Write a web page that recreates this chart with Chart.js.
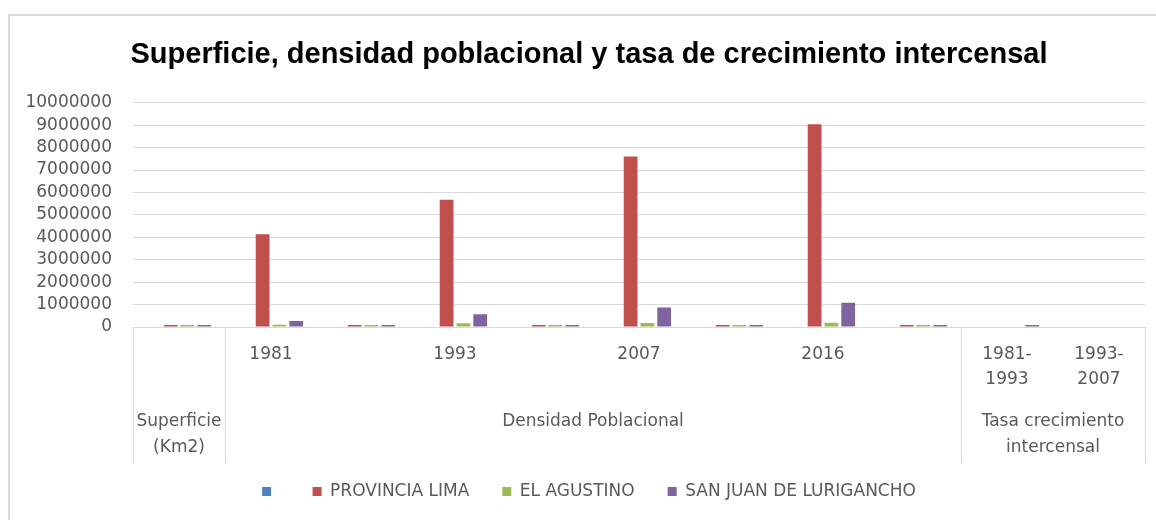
<!DOCTYPE html>
<html><head><meta charset="utf-8">
<script src="https://cdn.jsdelivr.net/npm/chart.js@4.4.0/dist/chart.umd.min.js"></script>
<style>html,body{margin:0;padding:0;background:#fff;}#wrap{position:relative;width:1156px;height:520px;}</style>
</head><body><div id="wrap"><canvas id="c" width="1156" height="520"></canvas></div>
<script>
// ---- data ----
const subLabels = ['', '1981', '', '1993', '', '2007', '', '2016', '', ['1981-', '1993'], ['1993-', '2007']];
const groupLabels = [['Superficie', '(Km2)'], ['Densidad Poblacional'], ['Tasa crecimiento', 'intercensal']];
const groupSpans = [1, 8, 2];
const seriesNames = ['', 'PROVINCIA LIMA', 'EL AGUSTINO', 'SAN JUAN DE LURIGANCHO'];
const seriesBlank = [null, null, null, null, null, null, null, null, null, null, null];
const provinciaLima = [2672, 4140000, 1559, 5680000, 2135, 7610000, 2846, 9040000, 3385, null, null];
const elAgustino = [12.54, 103000, 10200, 170000, 12283, 175000, 14375, 190000, 15237, null, null];
const sanJuan = [131.25, 270000, 1976, 570000, 4442, 870000, 6845, 1080000, 8315, 7.2, null];
const yMax = 10000000;
const yStep = 1000000;
const colors = ['#4F81BD', '#C0504D', '#9BBB59', '#8064A2'];

const TXT = '#595959';
const GRID = '#d9d9d9';

const frame = {
  id: 'frame',
  afterLayout(chart) {
    // give the value labels room to the left of the axis box
    chart.scales.y.left -= 20;
  },
  beforeDraw(chart) {
    const ctx = chart.ctx;
    ctx.save();
    ctx.strokeStyle = GRID;
    ctx.lineWidth = 2;
    ctx.beginPath();
    ctx.moveTo(9, chart.height + 5);
    ctx.lineTo(9, 15);
    ctx.lineTo(chart.width + 5, 15);
    ctx.stroke();
    ctx.restore();
  }
};

const groupAxis = {
  id: 'groupAxis',
  afterDraw(chart) {
    const xs = chart.scales.x;
    const ctx = chart.ctx;
    const w = xs.getPixelForTick(1) - xs.getPixelForTick(0);
    const top = chart.chartArea.bottom;
    const bottom = xs.top + 136;
    ctx.save();
    ctx.strokeStyle = GRID;
    ctx.lineWidth = 1;
    let idx = 0;
    const bounds = [xs.getPixelForTick(0) - w / 2];
    groupSpans.forEach(s => { idx += s; bounds.push(xs.getPixelForTick(idx - 1) + w / 2); });
    bounds.forEach(b => {
      const xx = Math.round(b) + 0.5;
      ctx.beginPath(); ctx.moveTo(xx, top); ctx.lineTo(xx, bottom); ctx.stroke();
    });
    ctx.fillStyle = TXT;
    ctx.font = '17px "DejaVu Sans"';
    ctx.textAlign = 'center';
    ctx.textBaseline = 'middle';
    groupLabels.forEach((lines, g) => {
      const cx = (bounds[g] + bounds[g + 1]) / 2;
      lines.forEach((ln, i) => ctx.fillText(ln, cx, xs.top + 95 + i * 26));
    });
    ctx.restore();
  }
};

const dsData = [seriesBlank, provinciaLima, elAgustino, sanJuan];
new Chart(document.getElementById('c'), {
  type: 'bar',
  data: {
    labels: subLabels,
    datasets: dsData.map((d, i) => ({
      label: seriesNames[i],
      data: d,
      backgroundColor: colors[i],
      borderWidth: 0,
      minBarLength: 2,
      categoryPercentage: 0.73,
      barPercentage: 0.82
    }))
  },
  options: {
    responsive: false,
    animation: false,
    devicePixelRatio: 1,
    layout: { padding: { left: 33, right: 11, top: 18, bottom: 10 } },
    plugins: {
      title: {
        display: true,
        text: 'Superficie, densidad poblacional y tasa de crecimiento intercensal',
        color: '#000',
        font: { family: '"Liberation Sans"', size: 29, weight: 'bold' },
        padding: { top: 20, bottom: 30 }
      },
      legend: {
        position: 'bottom',
        labels: {
          boxWidth: 9, boxHeight: 9, padding: 33, color: TXT,
          font: { family: '"DejaVu Sans"', size: 17 }
        }
      },
      tooltip: { enabled: false }
    },
    scales: {
      x: {
        ticks: { color: TXT, font: { family: '"DejaVu Sans"', size: 17, lineHeight: 1.47 }, padding: 7, maxRotation: 0, autoSkip: false },
        grid: { display: false },
        border: { display: true, color: GRID, width: 1 },
        afterFit: s => { s.height = 123; }
      },
      y: {
        min: 0, max: yMax,
        ticks: { stepSize: yStep, autoSkip: false, maxTicksLimit: 20, color: TXT, font: { family: '"DejaVu Sans"', size: 17, lineHeight: 1 }, padding: 21, callback: v => String(v) },
        grid: { color: GRID, lineWidth: 1, drawTicks: false },
        border: { display: false },
        afterFit: s => { s.width = 100; }
      }
    }
  },
  plugins: [frame, groupAxis]
});
</script>
</body></html>
